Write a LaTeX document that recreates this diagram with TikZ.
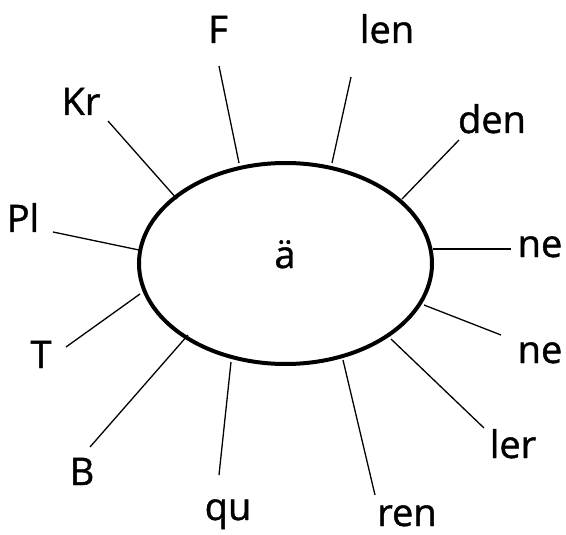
\documentclass[tikz,border=0pt]{standalone}
\usepackage{fontspec}
\setmainfont{Open Sans}
\newfontfamily\lblfont{Open Sans}[BoldFont=*, BoldFeatures={FakeBold=1.2}]
\usetikzlibrary{shapes.geometric}
\begin{document}
\begin{tikzpicture}[x=1pt,y=-1pt,
  lbl/.style={font=\lblfont\bfseries\fontsize{38}{44}\selectfont, inner sep=0pt, anchor=base},
  spoke/.style={line width=1.3pt, black},
  oval/.style={draw, line width=4pt, ellipse, minimum width=293pt, minimum height=201pt, inner sep=0pt}]
\useasboundingbox (0,0) rectangle (566,535);
\node[oval] (E) at (285.5,263.5) {};
\node[lbl] (center) at (285,268) {ä};
% labels
\node[lbl] (F) at (218,43) {F};
\node[lbl] (len) at (387,43) {len};
\node[lbl] (Kr) at (81,115) {Kr};
\node[lbl] (den) at (492,133) {den};
\node[lbl] (Pl) at (23,232) {Pl};
\node[lbl] (ne1) at (540,257) {ne};
\node[lbl] (T) at (41,368) {T};
\node[lbl] (ne2) at (540,363) {ne};
\node[lbl] (ler) at (513,458) {ler};
\node[lbl] (B) at (82,485) {B};
\node[lbl] (qu) at (228,520) {qu};
\node[lbl] (ren) at (407,526) {ren};
% spoke ends
\coordinate (F1) at (239,163);  \coordinate (F2) at (219,66);
\coordinate (len1) at (332,163); \coordinate (len2) at (351,77);
\coordinate (Kr1) at (177,199); \coordinate (Kr2) at (108,121);
\coordinate (den1) at (402,199); \coordinate (den2) at (459,140);
\coordinate (Pl1) at (139,250); \coordinate (Pl2) at (53,232);
\coordinate (ne11) at (433,249); \coordinate (ne12) at (511,249);
\coordinate (T1) at (140,294); \coordinate (T2) at (66,347);
\coordinate (ne21) at (424,305); \coordinate (ne22) at (501,335);
\coordinate (B1) at (188,335); \coordinate (B2) at (90,447);
\coordinate (ler1) at (391,339); \coordinate (ler2) at (484,428);
\coordinate (qu1) at (231,362); \coordinate (qu2) at (219,475);
\coordinate (ren1) at (343,360); \coordinate (ren2) at (375,495);
\foreach \s in {F,len,Kr,den,Pl,ne1,T,ne2,B,ler,qu,ren}
  \draw[spoke] (\s1) -- (\s2);
\end{tikzpicture}
\end{document}
